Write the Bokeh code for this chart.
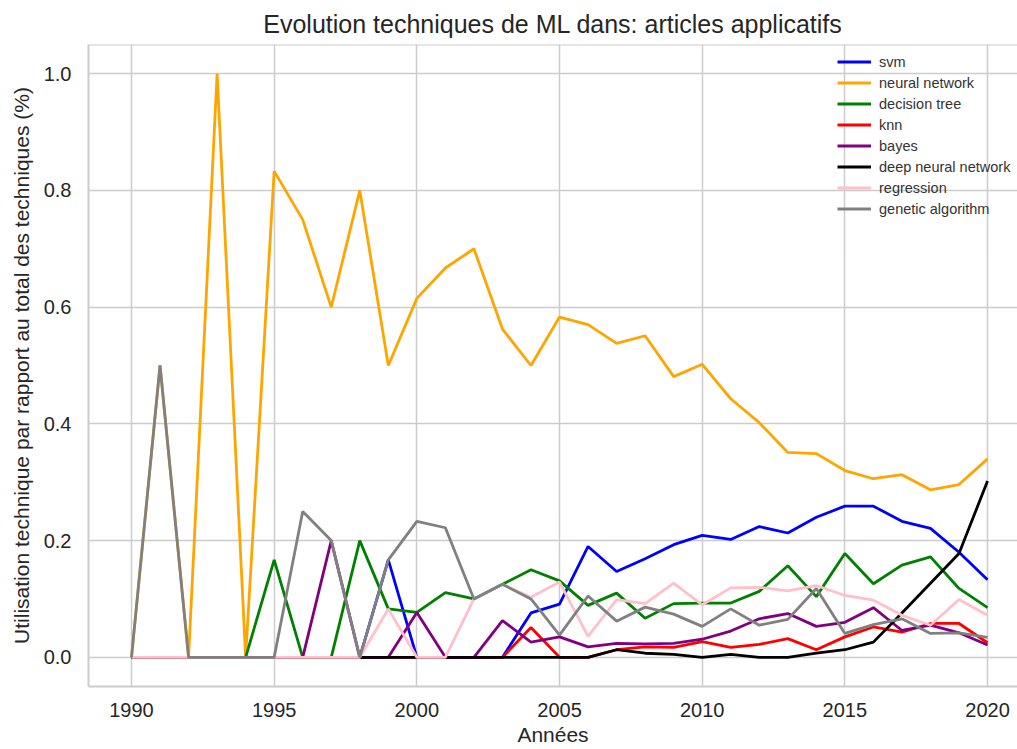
from bokeh.plotting import figure
from bokeh.models import (Span, Legend, LegendItem, FixedTicker, Range1d,
                          NumeralTickFormatter)
from bokeh.embed import file_html
from bokeh.resources import INLINE

years = list(range(1990, 2021))

svm = [0, 0, 0, 0, 0, 0, 0, 0, 0, 0.167, 0, 0, 0, 0, 0.076, 0.091, 0.19, 0.147,
       0.169, 0.193, 0.209, 0.202, 0.224, 0.213, 0.24, 0.259, 0.259, 0.233, 0.221,
       0.18, 0.133]
neural_network = [0, 0.5, 0, 1.0, 0, 0.833, 0.75, 0.6, 0.8, 0.5, 0.615, 0.667, 0.7,
                  0.5625, 0.5, 0.583, 0.57, 0.538, 0.551, 0.481, 0.502, 0.443, 0.402,
                  0.351, 0.349, 0.32, 0.306, 0.313, 0.287, 0.296, 0.34]
decision_tree = [0, 0, 0, 0, 0, 0.167, 0, 0, 0.2, 0.083, 0.077, 0.111, 0.1, 0.125,
                 0.15, 0.131, 0.089, 0.11, 0.067, 0.092, 0.093, 0.093, 0.113, 0.157,
                 0.104, 0.178, 0.126, 0.158, 0.172, 0.118, 0.085]
knn = [0, 0, 0, 0, 0, 0, 0, 0, 0, 0, 0, 0, 0, 0, 0.051, 0, 0, 0.013, 0.018, 0.017,
       0.027, 0.017, 0.022, 0.032, 0.013, 0.035, 0.052, 0.043, 0.058, 0.058, 0.025]
bayes = [0, 0, 0, 0, 0, 0, 0, 0.2, 0, 0, 0.077, 0, 0, 0.063, 0.026, 0.035, 0.018,
         0.024, 0.023, 0.024, 0.031, 0.045, 0.066, 0.075, 0.053, 0.06, 0.085, 0.046,
         0.055, 0.042, 0.021]
deep_neural_network = [0, 0, 0, 0, 0, 0, 0, 0, 0, 0, 0, 0, 0, 0, 0, 0, 0, 0.013,
                       0.007, 0.005, 0.0, 0.005, 0.0, 0.0, 0.007, 0.013, 0.026, 0.076,
                       0.127, 0.178, 0.302]
regression = [0, 0, 0, 0, 0, 0, 0, 0, 0, 0.083, 0, 0, 0.1, 0.125, 0.103, 0.129, 0.036,
              0.099, 0.092, 0.127, 0.09, 0.119, 0.12, 0.114, 0.123, 0.106, 0.098,
              0.072, 0.055, 0.099, 0.072]
genetic_algorithm = [0, 0.5, 0, 0, 0, 0, 0.25, 0.2, 0, 0.167, 0.233, 0.222, 0.1, 0.125,
                     0.1, 0.038, 0.105, 0.062, 0.086, 0.074, 0.053, 0.083, 0.055, 0.065,
                     0.118, 0.041, 0.056, 0.066, 0.041, 0.042, 0.034]

labels = ["svm", "neural network", "decision tree", "knn", "bayes",
          "deep neural network", "regression", "genetic algorithm"]
colors = ["blue", "orange", "green", "red", "purple", "black", "pink", "grey"]
values = [svm, neural_network, decision_tree, knn, bayes, deep_neural_network,
          regression, genetic_algorithm]

x_ticks = [1990, 1995, 2000, 2005, 2010, 2015, 2020]
y_ticks = [0.0, 0.2, 0.4, 0.6, 0.8, 1.0]

FONT = "Liberation Sans"
TXT = "#262626"
EDGE = "#cccccc"

p = figure(width=1017, height=749, output_backend="svg", toolbar_location=None,
           x_range=Range1d(1988.493, 2021.05), y_range=Range1d(-0.05, 1.05),
           min_border_left=88, min_border_right=0, min_border_top=44,
           min_border_bottom=63)

p.outline_line_color = None
p.background_fill_color = "white"
p.border_fill_color = "white"

p.title.text = "Evolution techniques de ML dans: articles applicatifs"
p.title.text_font = FONT
p.title.text_font_size = "25px"
p.title.text_font_style = "normal"
p.title.text_color = TXT
p.title.align = "center"
p.title.offset = 5
p.title.standoff = 14

for ax in (p.xaxis[0], p.yaxis[0]):
    ax.major_tick_line_color = None
    ax.minor_tick_line_color = None
    ax.axis_line_color = EDGE
    ax.axis_line_width = 2
    ax.major_label_text_font = FONT
    ax.major_label_text_font_size = "20px"
    ax.major_label_text_color = TXT
    ax.axis_label_text_font = FONT
    ax.axis_label_text_font_size = "21px"
    ax.axis_label_text_font_style = "normal"
    ax.axis_label_text_color = TXT

p.xaxis.ticker = FixedTicker(ticks=x_ticks)
p.yaxis.ticker = FixedTicker(ticks=y_ticks)
p.yaxis.formatter = NumeralTickFormatter(format="0.0")
p.xaxis.major_label_standoff = 10
p.yaxis.major_label_standoff = 11
p.xaxis.axis_label = "Années"
p.xaxis.axis_label_standoff = 3
p.yaxis.axis_label = "Utilisation technique par rapport au total des techniques (%)"
p.yaxis.axis_label_standoff = 8

p.xgrid.grid_line_color = EDGE
p.ygrid.grid_line_color = EDGE
p.xgrid.grid_line_width = 1.5
p.ygrid.grid_line_width = 1.5

# top frame edge (right edge lies outside the visible window in the original)
p.add_layout(Span(location=1.05, dimension="width", line_color=EDGE, line_width=2))

items = []
for name, vals, col in zip(labels, values, colors):
    r = p.line(years, vals, line_color=col, line_width=2.8)
    items.append(LegendItem(label=name, renderers=[r]))

legend = Legend(items=items, location=(749, 467))
legend.border_line_color = None
legend.background_fill_alpha = 0
legend.padding = 5
legend.margin = 0
legend.spacing = 0
legend.glyph_width = 34
legend.glyph_height = 21
legend.label_height = 21
legend.label_standoff = 8
legend.label_text_font = FONT
legend.label_text_font_size = "14.5px"
legend.label_text_color = "#333333"
p.add_layout(legend)

open("out.html", "w").write(file_html(p, INLINE))
